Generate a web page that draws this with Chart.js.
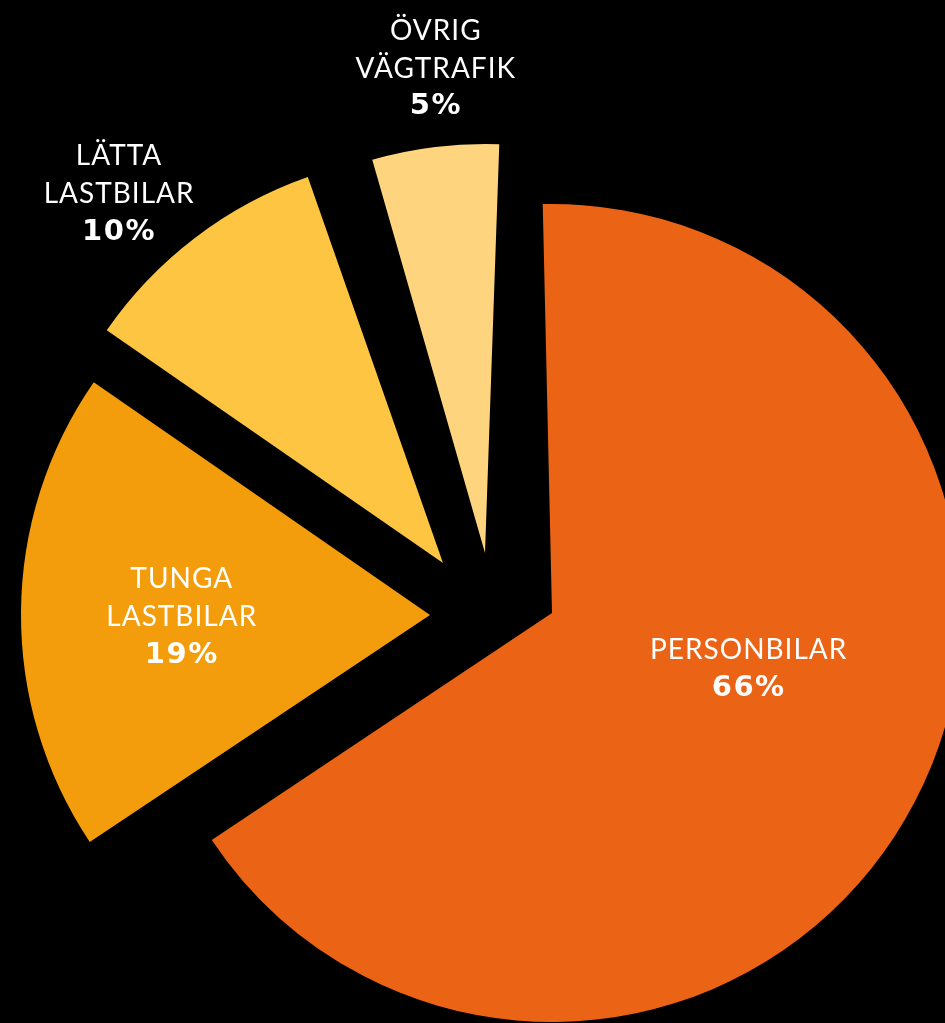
<!DOCTYPE html>
<html lang="sv">
  <head>
    <meta charset="UTF-8" />
    <meta name="viewport" content="width=device-width, initial-scale=1.0" />
    <title>Vägtrafikens fördelning</title>
    <script src="https://cdn.jsdelivr.net/npm/chart.js@4"></script>
    <style>
      html,
      body {
        margin: 0;
        padding: 0;
        overflow: hidden;
        background-color: #000;
      }

      canvas {
        display: block;
      }
    </style>
  </head>
  <body>
    <canvas id="myChart" width="945" height="1023"></canvas>
    <script>
      // Data: share of road traffic (%)
      const categories = [
        "PERSONBILAR",
        "TUNGA LASTBILAR",
        "LÄTTA LASTBILAR",
        "ÖVRIG VÄGTRAFIK",
      ];
      const labelLines = [
        ["PERSONBILAR"],
        ["TUNGA", "LASTBILAR"],
        ["LÄTTA", "LASTBILAR"],
        ["ÖVRIG", "VÄGTRAFIK"],
      ];
      const shares = [66, 19, 10, 5];

      // Styles
      const colors = ["#EB6314", "#F49D0C", "#FDC542", "#FED57E"];
      // how far each slice is pulled out of the pie [dx, dy]
      const explode = [
        [0, 0],
        [-122, 2],
        [-109, -50],
        [-67, -60],
      ];
      // extra turn of a pulled-out slice around its tip (deg)
      const sliceTurn = [0, 0, 0, 3.3];
      // label spot: fraction of radius from the slice tip, turn (deg) from mid angle
      const labelDist = [0.5, 0.607, 1.2, 1.19];
      const labelTurn = [-11.6, -1.0, -4, 1.2];
      const lineH = 38;

      const deg = Math.PI / 180;

      // Plugin that draws the pulled-out slices and their labels
      const explodedSlices = {
        id: "explodedSlices",
        beforeDatasetDraw(chart, args) {
          const ctx = chart.ctx;
          args.meta.data.forEach((arc, i) => {
            ctx.save();
            ctx.translate(arc.x + explode[i][0], arc.y + explode[i][1]);
            ctx.rotate(sliceTurn[i] * deg);
            ctx.translate(-arc.x, -arc.y);
            arc.draw(ctx);
            ctx.restore();
          });
          return false;
        },
        afterDatasetsDraw(chart) {
          const ctx = chart.ctx;
          const meta = chart.getDatasetMeta(0);
          ctx.save();
          ctx.fillStyle = "#fff";
          ctx.textAlign = "center";
          ctx.textBaseline = "middle";
          meta.data.forEach((arc, i) => {
            const mid =
              (arc.startAngle + arc.endAngle) / 2 +
              (sliceTurn[i] + labelTurn[i]) * deg;
            const r = arc.outerRadius * labelDist[i];
            const x = arc.x + explode[i][0] + Math.cos(mid) * r;
            const y = arc.y + explode[i][1] + Math.sin(mid) * r;
            const lines = labelLines[i];
            const top = y - (lines.length * lineH) / 2;
            ctx.font = "400 28px Lato";
            ctx.letterSpacing = "1px";
            lines.forEach((t, k) => ctx.fillText(t, x, top + k * lineH));
            ctx.font = "bold 29px 'DejaVu Sans'";
            ctx.letterSpacing = "1.5px";
            ctx.fillText(shares[i] + "%", x, top + lines.length * lineH);
          });
          ctx.restore();
        },
      };

      const ctx = document.getElementById("myChart").getContext("2d");
      const myChart = new Chart(ctx, {
        type: "pie",
        data: {
          labels: categories,
          datasets: [
            {
              data: shares,
              backgroundColor: colors,
              borderWidth: 0,
            },
          ],
        },
        options: {
          responsive: false,
          animation: false,
          rotation: -1.3,
          radius: 409,
          layout: {
            padding: { left: 159, top: 203, right: 0, bottom: 0 },
          },
          plugins: {
            legend: { display: false },
            tooltip: { enabled: false },
          },
        },
        plugins: [explodedSlices],
      });
    </script>
  </body>
</html>
